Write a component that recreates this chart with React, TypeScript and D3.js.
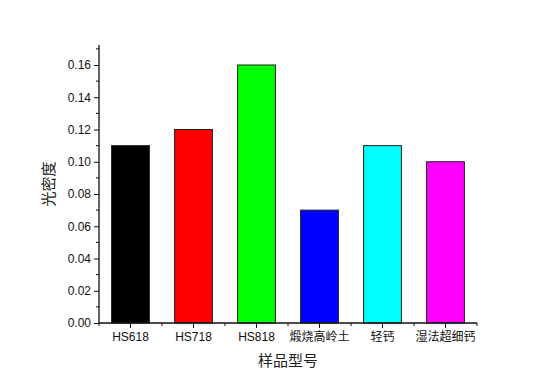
import React, {useEffect, useRef} from 'react';
import * as d3 from 'd3';

const categories = ['HS618', 'HS718', 'HS818', '煅烧高岭土', '轻钙', '湿法超细钙'];
const values = [0.11, 0.12, 0.16, 0.07, 0.11, 0.10];
const colors = ['#000000', '#ff0000', '#00ff00', '#0000ff', '#00ffff', '#ff00ff'];
const yTicks = [0, 0.02, 0.04, 0.06, 0.08, 0.1, 0.12, 0.14, 0.16];

const W = 554;
const H = 387;
const FONT = 'Arial, "Liberation Sans", "Noto Sans CJK SC", sans-serif';

export default function App() {
  const ref = useRef<SVGSVGElement>(null);

  useEffect(() => {
    const svg = d3.select(ref.current);
    svg.selectAll('*').remove();

    const left = 99, right = 477, top = 45, bottom = 323;

    const x = d3.scaleBand<string>().domain(categories).range([left, right]).paddingInner(0.4).paddingOuter(0.2);
    const y = d3.scaleLinear().domain([0, 0.1724]).range([bottom, top]);

    const g = svg.append('g');

    // bars
    g.selectAll('rect.bar')
      .data(values)
      .enter()
      .append('rect')
      .attr('class', 'bar')
      .attr('x', (_, i) => x(categories[i])!)
      .attr('y', (d) => y(d))
      .attr('width', x.bandwidth())
      .attr('height', (d) => bottom - y(d))
      .style('fill', (_, i) => colors[i])
      .style('stroke', '#222')
      .style('stroke-width', 1);

    // y axis
    const yAxis = d3.axisLeft(y).tickValues(yTicks).tickFormat(d3.format('.2f')).tickSizeOuter(0).tickSize(5);
    const ya = g.append('g').attr('transform', `translate(${left},0)`).call(yAxis);
    ya.select('.domain').remove();
    ya.selectAll('text').style('font-family', FONT).style('font-size', '12px').attr('fill', '#111').attr('x', -8);
    ya.selectAll('line').attr('stroke', '#111');

    // y minor ticks
    const minor = d3.range(0.01, 0.172, 0.02);
    g.selectAll('line.yminor')
      .data(minor)
      .enter()
      .append('line')
      .attr('x1', left - 3)
      .attr('x2', left)
      .attr('y1', (d) => y(d))
      .attr('y2', (d) => y(d))
      .attr('stroke', '#111');

    // x axis
    const xAxis = d3.axisBottom(x).tickSizeOuter(0).tickSize(5);
    const xa = g.append('g').attr('transform', `translate(0,${bottom})`).call(xAxis);
    xa.select('.domain').remove();
    xa.selectAll('text').style('font-family', FONT).style('font-size', '12px').attr('fill', '#111').attr('y', 9);
    xa.selectAll('line').attr('stroke', '#111');

    // x minor ticks at band boundaries
    const step = x.step();
    g.selectAll('line.xminor')
      .data(d3.range(0, categories.length + 1))
      .enter()
      .append('line')
      .attr('x1', (i) => left + i * step)
      .attr('x2', (i) => left + i * step)
      .attr('y1', bottom)
      .attr('y2', bottom + 3)
      .attr('stroke', '#111');

    // axis lines
    g.append('line').attr('x1', left).attr('x2', left).attr('y1', top).attr('y2', bottom).attr('stroke', '#111').attr('stroke-width', 1.3);
    g.append('line').attr('x1', left).attr('x2', right).attr('y1', bottom).attr('y2', bottom).attr('stroke', '#111').attr('stroke-width', 1.3);

    // titles
    g.append('text')
      .attr('transform', `translate(54,${(top + bottom) / 2}) rotate(-90)`)
      .attr('text-anchor', 'middle')
      .style('font-family', FONT)
      .style('font-size', '15px')
      .attr('fill', '#222')
      .text('光密度');
    g.append('text')
      .attr('x', (left + right) / 2)
      .attr('y', 366)
      .attr('text-anchor', 'middle')
      .style('font-family', FONT)
      .style('font-size', '15px')
      .attr('fill', '#222')
      .text('样品型号');
  }, []);

  return <svg ref={ref} width={W} height={H} style={{display: 'block', position: 'absolute', left: 0, top: 0, background: '#fff'}} />;
}
